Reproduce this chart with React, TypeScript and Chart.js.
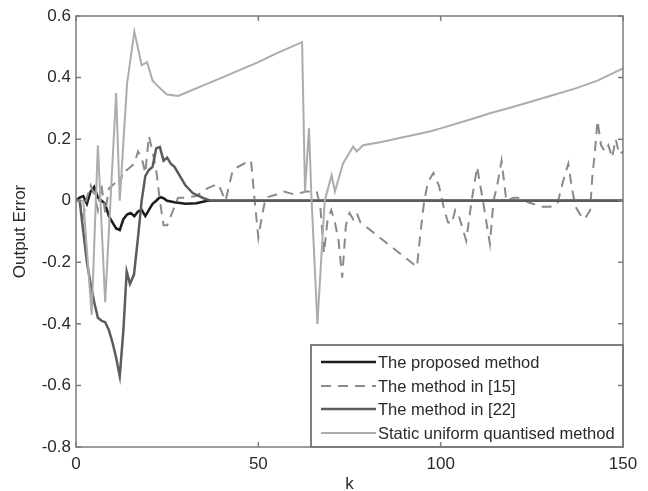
import React, { useEffect, useRef } from 'react';
import { Chart, registerables } from 'chart.js';

Chart.register(...registerables);

// ---------- data ----------
const legendLabels = [
  'The proposed method',
  'The method in [15]',
  'The method in [22]',
  'Static uniform quantised method',
];

const proposedK = [0, 1, 2, 3, 4, 5, 6, 7, 8, 9, 10, 11, 12, 13, 14, 15, 16, 17, 18, 19, 20, 21, 22, 23, 24, 25, 27, 30, 33, 36, 150];
const proposedV = [0, 0.01, 0.015, -0.01, 0.03, 0.045, 0.01, 0.0, -0.01, -0.05, -0.07, -0.09, -0.095, -0.06, -0.045, -0.04, -0.05, -0.035, -0.03, -0.05, -0.03, -0.01, 0.0, 0.012, 0.008, 0.0, -0.005, -0.01, -0.008, 0, 0];

const m15K = [0, 1, 2, 3, 4, 5, 6, 7, 8, 9, 10, 11, 12, 13, 14, 15, 16, 17, 18, 19, 20, 21, 22, 23, 24, 25, 26, 27, 28, 30, 33, 36, 39, 41, 43, 46, 48, 49, 50, 51, 52, 55, 57, 60, 63, 66, 67, 68, 69, 70, 71, 72, 73, 74, 75, 76, 77, 78, 93.5, 94.5, 95.5, 96.5, 98, 99.5, 101, 102, 103, 104, 105, 107, 108.5, 110, 111, 112, 113.5, 114.5, 115.5, 116.7, 118, 120, 121, 124, 128, 130, 132, 133.5, 135, 136, 137, 138.5, 139.5, 141, 141.6, 142.3, 143, 144, 145, 146, 147, 148, 149, 150];
const m15V = [0, 0, -0.05, 0.01, 0.05, 0.02, -0.03, 0.05, -0.04, 0.04, 0.05, 0.06, 0.05, 0.1, 0.1, 0.11, 0.12, 0.16, 0.14, 0.09, 0.21, 0.16, 0.1, 0.0, -0.08, -0.08, -0.05, -0.02, 0.01, 0.01, 0.015, 0.04, 0.055, 0.0, 0.1, 0.12, 0.13, 0.0, -0.12, -0.05, 0.01, 0.02, 0.03, 0.02, 0.03, 0.03, -0.02, -0.17, -0.06, -0.03, -0.07, -0.13, -0.25, -0.08, -0.04, -0.06, -0.04, -0.07, -0.215, -0.1, 0.0, 0.06, 0.09, 0.05, -0.03, -0.07, -0.075, -0.03, -0.05, -0.13, 0.0, 0.11, 0.04, -0.03, -0.14, 0.0, 0.05, 0.13, 0.0, 0.01, 0.01, -0.005, -0.02, -0.02, -0.01, 0.06, 0.12, 0.04, -0.02, -0.05, -0.06, -0.03, 0.08, 0.16, 0.26, 0.18, 0.16, 0.18, 0.14, 0.2, 0.15, 0.16];

const m22K = [0, 1, 2, 3, 4, 5, 6, 7, 8, 9, 10, 11, 12, 13, 13.9, 14.8, 15.9, 17, 18, 19, 20, 21, 22, 23, 24, 25, 26, 27, 28, 30, 32, 35, 37, 150];
const m22V = [0, 0, -0.1, -0.2, -0.27, -0.33, -0.38, -0.39, -0.395, -0.42, -0.46, -0.51, -0.57, -0.42, -0.23, -0.27, -0.24, -0.12, 0.0, 0.08, 0.1, 0.11, 0.17, 0.175, 0.13, 0.14, 0.12, 0.11, 0.09, 0.05, 0.025, 0.008, 0, 0];

const staticK = [0, 2, 4.3, 6, 8, 11, 12, 14, 16, 18, 19.5, 21, 23.5, 25, 28, 40, 50, 54.8, 62, 62.8, 63.9, 64.5, 66.2, 68.2, 70.1, 71, 73.2, 76, 77, 78.7, 83.4, 90, 97, 100, 109, 113.5, 120, 130, 137, 143, 150];
const staticV = [0, 0, -0.37, 0.18, -0.33, 0.35, 0.0, 0.38, 0.55, 0.44, 0.45, 0.39, 0.36, 0.345, 0.34, 0.4, 0.45, 0.478, 0.515, 0.03, 0.235, 0.03, -0.4, 0.0, 0.083, 0.03, 0.12, 0.176, 0.16, 0.18, 0.19, 0.207, 0.225, 0.235, 0.267, 0.284, 0.305, 0.34, 0.365, 0.39, 0.43];

const xTicks = [0, 50, 100, 150];
const yTicks = [0.6, 0.4, 0.2, 0, -0.2, -0.4, -0.6, -0.8];

// ---------- styles ----------
const FONT = '"Liberation Sans", Arial, Helvetica, sans-serif';
const TEXT = '#2a2a2a';
const FRAME = '#7c7c7c';
const styles = [
  { color: '#1c1c1c', width: 2.5, dash: [] as number[] },
  { color: '#8a8a8a', width: 2, dash: [10, 7] },
  { color: '#5c5c5c', width: 2.5, dash: [] as number[] },
  { color: '#acacac', width: 2, dash: [] as number[] },
];

const toPts = (k: number[], v: number[]) => k.map((x, i) => ({ x, y: v[i] }));

const legendPlugin = {
  id: 'boxLegend',
  afterDatasetsDraw(chart: any) {
    const { ctx, chartArea } = chart;
    const w = 312;
    const h = 102;
    const left = chartArea.right - w;
    const top = chartArea.bottom - h;
    ctx.save();
    ctx.fillStyle = '#ffffff';
    ctx.fillRect(left, top, w, h);
    ctx.strokeStyle = '#555555';
    ctx.lineWidth = 1.5;
    ctx.strokeRect(left, top, w, h);
    const rows = [17, 41, 64, 88];
    ctx.font = `16.5px ${FONT}`;
    ctx.textBaseline = 'middle';
    ctx.textAlign = 'left';
    legendLabels.forEach((lab, i) => {
      const y = top + rows[i];
      const s = styles[i];
      ctx.beginPath();
      ctx.setLineDash(s.dash);
      ctx.strokeStyle = s.color;
      ctx.lineWidth = s.width;
      ctx.moveTo(left + 10, y);
      ctx.lineTo(left + 65, y);
      ctx.stroke();
      ctx.setLineDash([]);
      ctx.fillStyle = TEXT;
      ctx.fillText(lab, left + 67, y + 1);
    });
    ctx.restore();
  },
};

const framePlugin = {
  id: 'frame',
  afterDraw(chart: any) {
    const { ctx, chartArea, scales } = chart;
    const { left, right, top, bottom } = chartArea;
    ctx.save();
    ctx.strokeStyle = FRAME;
    ctx.lineWidth = 1.5;
    ctx.setLineDash([]);
    ctx.strokeRect(left, top, right - left, bottom - top);
    const tl = 5;
    ctx.beginPath();
    xTicks.forEach((v) => {
      const px = scales.x.getPixelForValue(v);
      ctx.moveTo(px, bottom);
      ctx.lineTo(px, bottom - tl);
      ctx.moveTo(px, top);
      ctx.lineTo(px, top + tl);
    });
    yTicks.forEach((v) => {
      const py = scales.y.getPixelForValue(v);
      ctx.moveTo(left, py);
      ctx.lineTo(left + tl, py);
      ctx.moveTo(right, py);
      ctx.lineTo(right - tl, py);
    });
    ctx.stroke();
    ctx.restore();
  },
};

export default function App() {
  const ref = useRef<HTMLCanvasElement | null>(null);

  useEffect(() => {
    if (!ref.current) return;
    const series = [
      toPts(proposedK, proposedV),
      toPts(m15K, m15V),
      toPts(m22K, m22V),
      toPts(staticK, staticV),
    ];
    const orders = [4, 3, 2, 1];
    const chart = new Chart(ref.current, {
      type: 'line',
      data: {
        datasets: series.map((d, i) => ({
          label: legendLabels[i],
          data: d,
          borderColor: styles[i].color,
          borderWidth: styles[i].width,
          borderDash: styles[i].dash,
          pointRadius: 0,
          tension: 0,
          fill: false,
          order: orders[i],
        })),
      },
      options: {
        responsive: false,
        animation: false,
        layout: { padding: { left: 0, right: 25, top: 16, bottom: 0 } },
        plugins: {
          legend: { display: false },
          tooltip: { enabled: false },
          title: { display: false },
        },
        scales: {
          x: {
            type: 'linear',
            min: 0,
            max: 150,
            grid: { display: false, drawTicks: false },
            border: { display: false },
            afterBuildTicks: (s: any) => {
              s.ticks = xTicks.map((v) => ({ value: v }));
            },
            afterFit: (s: any) => {
              s.height = 44;
            },
            ticks: {
              color: TEXT,
              font: { family: FONT, size: 17 },
              padding: 7,
              maxRotation: 0,
              callback: (v: any) => String(v),
            },
            title: {
              display: true,
              text: 'k',
              color: TEXT,
              font: { family: FONT, size: 17, lineHeight: 0.8 },
              padding: { top: 0, bottom: 0 },
            },
          },
          y: {
            type: 'linear',
            min: -0.8,
            max: 0.6,
            grid: { display: false, drawTicks: false },
            border: { display: false },
            afterBuildTicks: (s: any) => {
              s.ticks = yTicks.map((v) => ({ value: v }));
            },
            afterFit: (s: any) => {
              s.width = 76;
            },
            ticks: {
              color: TEXT,
              font: { family: FONT, size: 17 },
              padding: 5,
              callback: (v: any) => (Math.abs(Number(v)) < 1e-9 ? '0' : Number(v).toFixed(1)),
            },
            title: {
              display: true,
              text: 'Output Error',
              color: TEXT,
              font: { family: FONT, size: 17 },
              padding: { top: 10, bottom: 0 },
            },
          },
        },
      },
      plugins: [legendPlugin, framePlugin],
    });
    return () => chart.destroy();
  }, []);

  return (
    <div style={{ position: 'fixed', left: 0, top: 0, width: 648, height: 491, background: '#fff' }}>
      <canvas ref={ref} width={648} height={491} style={{ display: 'block' }} />
    </div>
  );
}
